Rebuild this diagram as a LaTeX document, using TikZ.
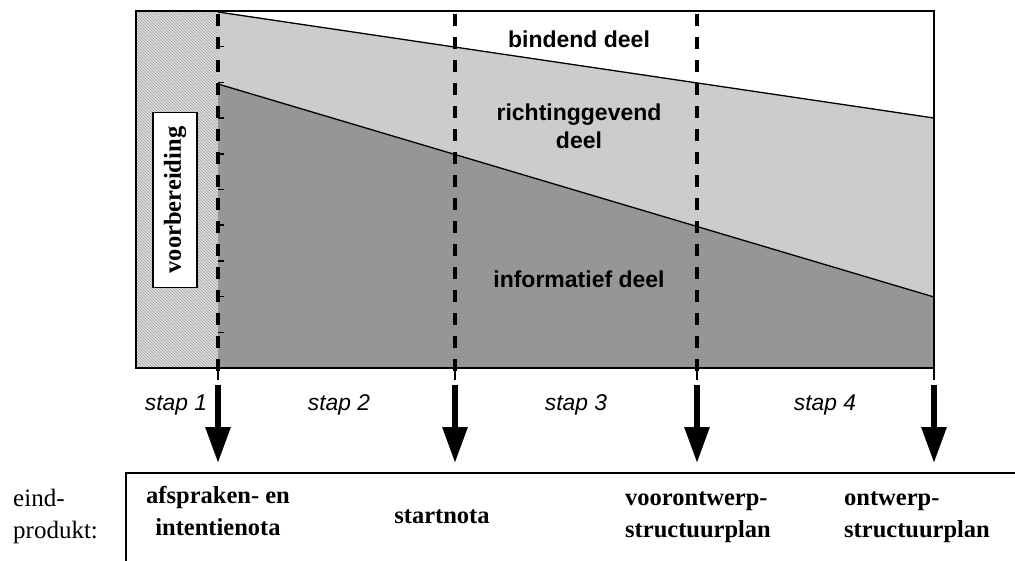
\documentclass[tikz,border=0pt]{standalone}
\usepackage{fontspec}
\setmainfont{Liberation Serif}
\setsansfont{Liberation Sans}
\usepackage{tikz}
\usetikzlibrary{positioning}
\usetikzlibrary{arrows.meta}
\usetikzlibrary{patterns}
\definecolor{lightgrey}{gray}{0.80}
\definecolor{darkgrey}{gray}{0.59}
\tikzset{part label/.style={font=\sffamily\bfseries\fontsize{23}{28}\selectfont, align=center, inner sep=0pt, anchor=base},
  stap label/.style={font=\sffamily\itshape\fontsize{22.8}{28}\selectfont, inner sep=0pt, anchor=base},
  product label/.style={font=\bfseries\fontsize{24.5}{31.5}\selectfont, inner sep=0pt, anchor=base},
  stage line/.style={line width=3.5pt, dash pattern=on 12pt off 11pt},
  phase arrow/.style={line width=6pt, -{Triangle[width=24pt,length=36pt]}},}

\begin{document}
\begin{tikzpicture}[x=1pt, y=-1pt, line join=miter]
	\clip (0,0) rectangle (1015,560);
	% vlakken
	\fill[lightgrey] (218,12) -- (934,118) -- (934,368) -- (218,368) -- cycle;
	\fill[darkgrey] (218,84) -- (934,297) -- (934,368) -- (218,368) -- cycle;
	\fill[gray!25] (136,11) rectangle (218,368);
	\fill[pattern=north west lines, pattern color=gray!75] (136,11) rectangle (218,368);
	\draw[line width=1.3pt] (218,12) -- (934,118);
	\draw[line width=1.3pt] (218,84) -- (934,297);
	\draw[line width=1.5pt] (136,11) rectangle (934,368);
	\foreach \k in {1,...,9} \draw[line width=1.5pt] (218,11+35.7*\k) -- ++(6,0);
	\foreach \x in {218,455,697,934} \draw[line width=1.3pt] (\x,368) -- (\x,380);
	\foreach \x in {218,455,697} \draw[stage line] (\x,14) -- (\x,378);

	\node[draw, fill=white, rotate=90, line width=1.3pt, minimum width=175pt, minimum height=44pt, inner sep=0pt,
	      font=\bfseries\fontsize{24.5}{28}\selectfont] (prep) at (175,200) {voorbereiding};

	\node[part label] (bind) at (579,47) {bindend deel};
	\node[part label] (richt) at (579,148) {richtinggevend\\deel};
	\node[part label] (info) at (579,287) {informatief deel};

	\node[stap label] (stap1) at (176,410) {stap 1};
	\node[stap label] (stap2) at (339,410) {stap 2};
	\node[stap label] (stap3) at (576,410) {stap 3};
	\node[stap label] (stap4) at (825,410) {stap 4};

	\foreach \x [count=\i] in {218,455,697,934} {
	    \coordinate (top\i) at (\x,385);
	    \coordinate (tip\i) at (\x,463);
	    \draw[phase arrow] (top\i) -- (tip\i);
	}

	% eindprodukten
	\draw[line width=1.5pt] (126,600) -- (126,473) -- (1030,473);
	\node[font=\fontsize{25}{32}\selectfont, align=left, inner sep=0pt, anchor=base west] (eind) at (13,538) {eind-\\produkt:};
	\node[product label, align=center] (prod1) at (218,535) {afspraken- en\\intentienota};
	\node[product label] (prod2) at (442,523) {startnota};
	\node[product label, align=left, anchor=base west] (prod3) at (625,537) {voorontwerp-\\structuurplan};
	\node[product label, align=left, anchor=base west] (prod4) at (844,537) {ontwerp-\\structuurplan};
\end{tikzpicture}
\end{document}
